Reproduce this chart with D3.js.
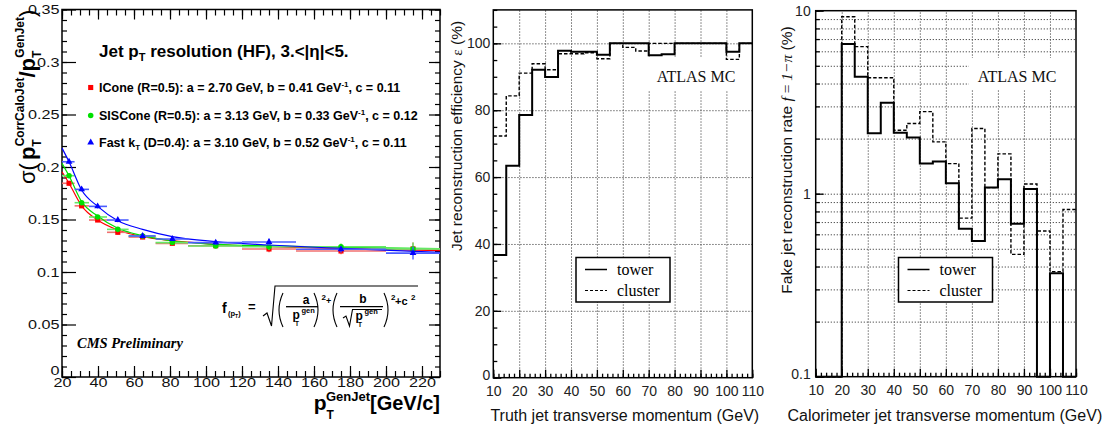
<!DOCTYPE html>
<html lang="en">
<head>
<meta charset="UTF-8">
<script src="https://cdn.jsdelivr.net/npm/d3@7"></script>
<title>Jet resolution and reconstruction</title>
<style>
  body { margin:0; background:#fff; }
  svg text { font-family: "Liberation Sans", Arial, sans-serif; }
  .serif { font-family: "Liberation Serif", "Times New Roman", serif; }
  .grid line { stroke:#555; stroke-dasharray:1.3,1.7; stroke-width:1; }
  .grid path { display:none; }
  .ax path { display:none; }
  .ax line { stroke:#000; }
  .frame { fill:none; stroke:#000; stroke-width:1.5; }
</style>
</head>
<body>
<svg id="chart" width="1112" height="428"></svg>
<script>
// ---------- left panel data (CMS, HF resolution) ----------
const ptLo = [20, 27, 35, 45, 57, 72, 90, 120, 150, 200];
const ptHi = [27, 35, 45, 57, 72, 90, 120, 150, 200, 230];
const ptMid = [23.9, 30.9, 39.8, 51, 64.8, 81.3, 105.4, 135, 175, 215];
const iconeRes = [0.1845, 0.163, 0.1495, 0.1378, 0.1333, 0.1273, 0.125, 0.1219, 0.120, 0.122];
const siscRes = [0.1917, 0.166, 0.1524, 0.1406, 0.1343, 0.128, 0.1248, 0.124, 0.1241, 0.122];
const ktRes = [0.205, 0.1787, 0.1625, 0.1495, 0.1343, 0.1314, 0.128, 0.1286, 0.1216, 0.118];
const resErr = [0.002, 0.002, 0.002, 0.002, 0.002, 0.002, 0.002, 0.003, 0.003, 0.006];
// fitted curves
const fitPt = [20, 23.9, 30.9, 39.8, 51, 64.8, 81.3, 105.4, 135, 175, 230];
const iconeFit = [0.1955, 0.1845, 0.163, 0.1495, 0.140, 0.1337, 0.1298, 0.1263, 0.1241, 0.1222, 0.1203];
const siscFit = [0.2035, 0.1917, 0.167, 0.1533, 0.1416, 0.1346, 0.1295, 0.1263, 0.1248, 0.1235, 0.1222];
const ktFit = [0.218, 0.205, 0.1781, 0.1625, 0.1489, 0.1406, 0.1337, 0.1289, 0.1257, 0.1225, 0.1187];
const algoNames = ["ICone (R=0.5): a = 2.70 GeV, b = 0.41 GeV", "SISCone (R=0.5): a = 3.13 GeV, b = 0.33 GeV", "Fast k"];
const leftYTicks = [0, 0.05, 0.1, 0.15, 0.2, 0.25, 0.3, 0.35];
const leftXTicks = [20, 40, 60, 80, 100, 120, 140, 160, 180, 200, 220];

// ---------- middle / right panels (ATLAS) ----------
const binEdges = [10, 15, 20, 25, 30, 35, 40, 45, 50, 55, 60, 65, 70, 75, 80, 85, 90, 95, 100, 105, 110];
const effTower = [36.7, 63.4, 78.6, 92.1, 89.9, 97.8, 97.5, 97.5, 96.6, 100, 100, 100, 96.4, 96.7, 100, 100, 100, 100, 97.5, 100];
const effCluster = [72.3, 84.3, 91.1, 93.9, 92.1, 96.9, 96.9, 97.2, 95.4, 100, 98.8, 97.7, 100, 100, 100, 100, 100, 100, 95.2, 100];
const fakeTower = [0, 0, 6.57, 4.36, 2.14, 3.14, 2.15, 2.03, 1.46, 1.50, 1.14, 0.644, 0.551, 1.08, 1.20, 0.686, 1.06, 0, 0.367, 0];
const fakeCluster = [0, 0, 9.27, 6.36, 4.30, 4.30, 2.22, 2.42, 2.81, 1.92, 1.46, 0.735, 2.27, 1.08, 1.65, 0.466, 1.13, 0.625, 0.375, 0.82];
const atlasXTicks = [10, 20, 30, 40, 50, 60, 70, 80, 90, 100, 110];
const effYTicks = [0, 20, 40, 60, 80, 100];
const fakeYTicks = [0.1, 1, 10];

const svg = d3.select("#chart");

// =============== LEFT ===============
const xL = d3.scaleLinear().domain([20, 230]).range([62, 440]);
const yL = d3.scaleLinear().domain([0, 0.35]).range([377, 9.5]);

function minorL(step, lo, hi) {
  const out = [];
  for (let v = lo; v <= hi + 1e-9; v += step) out.push(+v.toFixed(3));
  return out;
}

const gL = svg.append("g");
// ticks, ROOT style: all inside the frame
gL.append("g").attr("class", "ax").attr("transform", `translate(0,${yL(0)})`)
  .call(d3.axisBottom(xL).tickValues(minorL(5, 20, 230)).tickSize(-6).tickFormat(""));
const xLab = gL.append("g").attr("class", "ax").attr("transform", `translate(0,${yL(0)})`)
  .call(d3.axisBottom(xL).tickValues(leftXTicks).tickSize(-11).tickPadding(0));
gL.append("g").attr("class", "ax").attr("transform", `translate(0,${yL(0.35)})`)
  .call(d3.axisTop(xL).tickValues(minorL(5, 20, 230)).tickSize(-6).tickFormat(""));
gL.append("g").attr("class", "ax").attr("transform", `translate(0,${yL(0.35)})`)
  .call(d3.axisTop(xL).tickValues(leftXTicks).tickSize(-10).tickFormat(""));
gL.append("g").attr("class", "ax").attr("transform", `translate(${xL(20)},0)`)
  .call(d3.axisLeft(yL).tickValues(minorL(0.01, 0, 0.35)).tickSize(-5).tickFormat(""));
const yLab = gL.append("g").attr("class", "ax").attr("transform", `translate(${xL(20)},0)`)
  .call(d3.axisLeft(yL).tickValues(leftYTicks).tickSize(-14).tickPadding(2).tickFormat(d => String(+d.toFixed(2))));
gL.append("g").attr("class", "ax").attr("transform", `translate(${xL(230)},0)`)
  .call(d3.axisRight(yL).tickValues(minorL(0.01, 0, 0.35)).tickSize(-5).tickFormat(""));
gL.append("g").attr("class", "ax").attr("transform", `translate(${xL(230)},0)`)
  .call(d3.axisRight(yL).tickValues(leftYTicks).tickSize(-11).tickFormat(""));
gL.selectAll(".ax line").attr("stroke-width", 1.2);
xLab.selectAll("text").attr("font-size", 13.5).attr("fill", "#111").attr("transform", "scale(1.2,1)");
yLab.selectAll("text").attr("font-size", 13.5).attr("fill", "#111").attr("transform", "scale(1.2,1)")
  .attr("dy", d => d === 0 ? "-0.2em" : "0.32em");

gL.append("rect").attr("class", "frame")
  .attr("x", xL(20)).attr("y", yL(0.35)).attr("width", xL(230) - xL(20)).attr("height", yL(0) - yL(0.35));

const series = [
  { res: iconeRes, fit: iconeFit, color: "#ff0000", bar: "#f07070", sym: d3.symbolSquare, size: 26 },
  { res: siscRes, fit: siscFit, color: "#00e000", bar: "#66e866", sym: d3.symbolCircle, size: 24 },
  { res: ktRes, fit: ktFit, color: "#0000ff", bar: "#4a5cff", sym: d3.symbolTriangle, size: 20 }
];
const fitLine = d3.line().x(d => xL(d[0])).y(d => yL(d[1])).curve(d3.curveMonotoneX);

series.forEach(s => {
  gL.append("path").datum(fitPt.map((p, i) => [p, s.fit[i]]))
    .attr("d", fitLine).attr("fill", "none").attr("stroke", s.color).attr("stroke-width", 1.2);
  gL.selectAll(null).data(s.res).enter().append("line")
    .attr("x1", (d, i) => xL(ptLo[i])).attr("x2", (d, i) => xL(ptHi[i]))
    .attr("y1", d => yL(d)).attr("y2", d => yL(d))
    .attr("stroke", s.bar).attr("stroke-width", 1.6);
  gL.selectAll(null).data(s.res).enter().append("line")
    .attr("x1", (d, i) => xL(ptMid[i])).attr("x2", (d, i) => xL(ptMid[i]))
    .attr("y1", (d, i) => yL(d - resErr[i])).attr("y2", (d, i) => yL(d + resErr[i]))
    .attr("stroke", s.bar).attr("stroke-width", 1.4);
  gL.selectAll(null).data(s.res).enter().append("path")
    .attr("d", d3.symbol().type(s.sym).size(s.size))
    .attr("transform", (d, i) => `translate(${xL(ptMid[i])},${yL(d)})`)
    .attr("fill", s.color);
});

// title + legend
const title = gL.append("text").attr("x", 99).attr("y", 57).attr("font-size", 17).attr("font-weight", "bold");
title.append("tspan").text("Jet p");
title.append("tspan").attr("font-size", 11).attr("dy", 4).text("T");
title.append("tspan").attr("dy", -4).text(" resolution (HF), 3.<|η|<5.");

const legY = [87.5, 115.5, 142.5];
const legTail = [", c = 0.11", ", c = 0.12", ", c = 0.11"];
series.forEach((s, i) => {
  gL.append("path").attr("d", d3.symbol().type(s.sym).size(s.size))
    .attr("transform", `translate(90.7,${legY[i]})`).attr("fill", s.color);
  const t = gL.append("text").attr("x", 99).attr("y", legY[i] + 4.3)
    .attr("font-size", 12.5).attr("font-weight", "bold");
  if (i < 2) {
    t.append("tspan").text(algoNames[i]);
  } else {
    t.append("tspan").text(algoNames[i]);
    t.append("tspan").attr("font-size", 8).attr("dy", 3).text("T");
    t.append("tspan").attr("dy", -3).text(" (D=0.4): a = 3.10 GeV, b = 0.52 GeV");
  }
  t.append("tspan").attr("font-size", 8).attr("dy", -5).text("-1");
  t.append("tspan").attr("dy", 5).text(legTail[i]);
});

// fit formula
const fm = gL.append("g").attr("font-weight", "bold").attr("fill", "#000");
fm.append("text").attr("x", 222).attr("y", 313).attr("font-size", 14).text("f");
const fsub = fm.append("text").attr("x", 228).attr("y", 316).attr("font-size", 7.5);
fsub.append("tspan").text("(p");
fsub.append("tspan").attr("font-size", 5).attr("dy", 2).text("T");
fsub.append("tspan").attr("dy", -2).text(")");
fm.append("text").attr("x", 248).attr("y", 311).attr("font-size", 13).text("=");
const fpath = (d, w) => fm.append("path").attr("d", d).attr("fill", "none").attr("stroke", "#000").attr("stroke-width", w || 1.1);
fpath("M263,316 L267,313 L271.5,326 L275,286 L418,286");
fpath("M283,293 Q275,310 283,327");
fm.append("text").attr("x", 306).attr("y", 304).attr("font-size", 12).attr("text-anchor", "middle").text("a");
fpath("M286,306.7 L318,306.7", 1.3);
fm.append("text").attr("x", 292.5).attr("y", 318.5).attr("font-size", 12).text("p");
fm.append("text").attr("x", 301.5).attr("y", 313).attr("font-size", 7.5).text("gen");
fm.append("text").attr("x", 295).attr("y", 326).attr("font-size", 6.5).text("T");
fpath("M314,293 Q322,310 314,327");
fm.append("text").attr("x", 321.5).attr("y", 300).attr("font-size", 8).text("2");
fm.append("text").attr("x", 326).attr("y", 303.5).attr("font-size", 9).text("+");
fpath("M337,293 Q329,310 337,327");
fm.append("text").attr("x", 363).attr("y", 303).attr("font-size", 12).attr("text-anchor", "middle").text("b");
fpath("M340,306.7 L383,306.7", 1.3);
fpath("M343,318 L346,316 L349.5,326 L352.5,309.5 L382,309.5");
fm.append("text").attr("x", 355.5).attr("y", 319.5).attr("font-size", 12).text("p");
fm.append("text").attr("x", 364.5).attr("y", 314).attr("font-size", 7.5).text("gen");
fm.append("text").attr("x", 358).attr("y", 326.5).attr("font-size", 6.5).text("T");
fpath("M384,293 Q392,310 384,327");
fm.append("text").attr("x", 391).attr("y", 300).attr("font-size", 8).text("2");
fm.append("text").attr("x", 395).attr("y", 305).attr("font-size", 11).text("+c");
fm.append("text").attr("x", 411).attr("y", 299.5).attr("font-size", 8).text("2");

gL.append("text").attr("class", "serif").attr("x", 77).attr("y", 348)
  .attr("font-size", 14.5).attr("font-weight", "bold").attr("font-style", "italic").text("CMS Preliminary");

// axis titles
const xt = gL.append("text").attr("x", 440).attr("y", 410).attr("text-anchor", "end").attr("font-weight", "bold").attr("font-size", 21);
xt.append("tspan").text("p");
xt.append("tspan").attr("font-size", 12).attr("dy", 9).text("T");
xt.append("tspan").attr("font-size", 13).attr("dx", -8).attr("dy", -18).text("GenJet");
xt.append("tspan").attr("font-size", 20).attr("dy", 9).text("[GeV/c]");

const yt = gL.append("text").attr("transform", "translate(35,184) rotate(-90)").attr("font-weight", "bold").attr("font-size", 22);
yt.append("tspan").attr("font-weight", "normal").text("σ(");
yt.append("tspan").attr("dx", 3).text("p");
yt.append("tspan").attr("font-size", 12).attr("dy", 6).text("T");
yt.append("tspan").attr("font-size", 12).attr("dx", -7).attr("dy", -17).text("CorrCaloJet");
yt.append("tspan").attr("dy", 11).text("/p");
yt.append("tspan").attr("font-size", 12).attr("dy", 6).text("T");
yt.append("tspan").attr("font-size", 12).attr("dx", -7).attr("dy", -17).text("GenJet");
yt.append("tspan").attr("font-weight", "normal").attr("dy", 11).text(")");

// =============== shared ATLAS panel builder ===============
function histPath(x, y, vals, floor) {
  const pts = vals.map((v, i) => [binEdges[i], v]);
  pts.push([binEdges[binEdges.length - 1], vals[vals.length - 1]]);
  return d3.line().x(d => x(d[0])).y(d => (d[1] > 0 ? y(d[1]) : y(floor))).curve(d3.curveStepAfter)(pts);
}

function atlasPanel(x, y, opts) {
  const g = svg.append("g");
  const top = y.range()[1], bot = y.range()[0];
  const left = x.range()[0], right = x.range()[1];

  // grid
  g.append("g").attr("class", "grid").attr("transform", `translate(0,${bot})`)
    .call(d3.axisBottom(x).tickValues(atlasXTicks.slice(1, -1)).tickSize(-(bot - top)).tickFormat(""));
  g.append("g").attr("class", "grid").attr("transform", `translate(${left},0)`)
    .call(d3.axisLeft(y).tickValues(opts.gridY).tickSize(-(right - left)).tickFormat(""));

  // white box behind the label
  g.append("rect").attr("x", opts.box[0]).attr("y", 58).attr("width", right - opts.box[0] - 1).attr("height", 32).attr("fill", "#fff");
  g.append("text").attr("class", "serif").attr("x", opts.box[1]).attr("y", 81.7).attr("font-size", 16).attr("fill", "#111").text("ATLAS MC");

  // histograms
  g.append("path").attr("d", histPath(x, y, opts.cluster, opts.floor))
    .attr("fill", "none").attr("stroke", "#000").attr("stroke-width", 1.4).attr("stroke-dasharray", "3.5,2");
  g.append("path").attr("d", histPath(x, y, opts.tower, opts.floor))
    .attr("fill", "none").attr("stroke", "#000").attr("stroke-width", 2);

  // ticks
  const minorX = [];
  for (let v = 10; v <= 110; v += 2) minorX.push(v);
  g.append("g").attr("class", "ax").attr("transform", `translate(0,${bot})`)
    .call(d3.axisBottom(x).tickValues(minorX).tickSize(-4).tickFormat(""));
  const xa = g.append("g").attr("class", "ax").attr("transform", `translate(0,${bot})`)
    .call(d3.axisBottom(x).tickValues(atlasXTicks).tickSize(-8).tickPadding(8));
  g.append("g").attr("class", "ax").attr("transform", `translate(${left},0)`)
    .call(d3.axisLeft(y).tickValues(opts.minorY).tickSize(-4).tickFormat(""));
  const ya = g.append("g").attr("class", "ax").attr("transform", `translate(${left},0)`)
    .call(d3.axisLeft(y).tickValues(opts.majorY).tickSize(-8).tickPadding(opts.pad).tickFormat(opts.fmt));
  g.selectAll(".ax line").attr("stroke-width", 1.3);
  xa.selectAll("text").attr("font-size", 14).attr("fill", "#222");
  ya.selectAll("text").attr("font-size", 14).attr("fill", "#222")
    .attr("dy", d => d === opts.majorY[0] ? "0.15em" : "0.32em");

  g.append("rect").attr("class", "frame").attr("x", left).attr("y", top).attr("width", right - left).attr("height", bot - top);

  // legend
  const lx = opts.legX;
  g.append("rect").attr("x", lx).attr("y", 257.5).attr("width", 94).attr("height", 44.5)
    .attr("fill", "#fff").attr("stroke", "#000").attr("stroke-width", 1.5);
  g.append("line").attr("x1", lx + 9).attr("x2", lx + 31).attr("y1", 269.5).attr("y2", 269.5).attr("stroke", "#000").attr("stroke-width", 1.5);
  g.append("line").attr("x1", lx + 9).attr("x2", lx + 31).attr("y1", 290.5).attr("y2", 290.5).attr("stroke", "#000")
    .attr("stroke-width", 1.2).attr("stroke-dasharray", "3,2");
  g.append("text").attr("class", "serif").attr("x", lx + 41).attr("y", 274.5).attr("font-size", 16).text("tower");
  g.append("text").attr("class", "serif").attr("x", lx + 41).attr("y", 295.5).attr("font-size", 16).text("cluster");

  // axis titles
  g.append("text").attr("x", (left + right) / 2 + opts.xtShift).attr("y", 421).attr("text-anchor", "middle")
    .attr("font-size", 16).attr("fill", "#111").text(opts.xTitle);
  return g;
}

// middle panel
const xM = d3.scaleLinear().domain([10, 110]).range([493.3, 752.3]);
const yM = d3.scaleLinear().domain([0, 110]).range([377.7, 9.9]);
const minorEff = [];
for (let v = 0; v <= 110; v += 5) minorEff.push(v);
const gM = atlasPanel(xM, yM, {
  gridY: [20, 40, 60, 80, 100], minorY: minorEff, majorY: effYTicks, fmt: d3.format("d"), pad: 3,
  tower: effTower, cluster: effCluster, floor: 0, box: [646, 656.7], legX: 576,
  xTitle: "Truth jet transverse momentum (GeV)", xtShift: 2
});
const ytM = gM.append("text").attr("transform", "translate(462,136) rotate(-90)").attr("text-anchor", "middle")
  .attr("font-size", 15.5).attr("fill", "#111");
ytM.append("tspan").text("Jet reconstruction efficiency ");
ytM.append("tspan").attr("class", "serif").text("ε");
ytM.append("tspan").text(" (%)");

// right panel
const xR = d3.scaleLinear().domain([10, 110]).range([815.7, 1076]);
const yR = d3.scaleLog().domain([0.1, 10]).range([376.7, 10.7]);
const logTicks = yR.ticks().filter(v => v > 0.1 && v < 10);
const gR = atlasPanel(xR, yR, {
  gridY: logTicks, minorY: yR.ticks(), majorY: fakeYTicks, fmt: d => String(d), pad: 5,
  tower: fakeTower, cluster: fakeCluster, floor: 0.1, box: [969, 977.7], legX: 898.5,
  xTitle: "Calorimeter jet transverse momentum (GeV)", xtShift: -1
});
const ytR = gR.append("text").attr("transform", "translate(792,160) rotate(-90)").attr("text-anchor", "middle")
  .attr("font-size", 15.5).attr("fill", "#111");
ytR.append("tspan").text("Fake jet reconstruction rate ");
ytR.append("tspan").attr("class", "serif").attr("font-style", "italic").text("f");
ytR.append("tspan").attr("class", "serif").text(" =  ");
ytR.append("tspan").attr("class", "serif").attr("font-style", "italic").text("1−π");
ytR.append("tspan").text(" (%)");
</script>
</body>
</html>
